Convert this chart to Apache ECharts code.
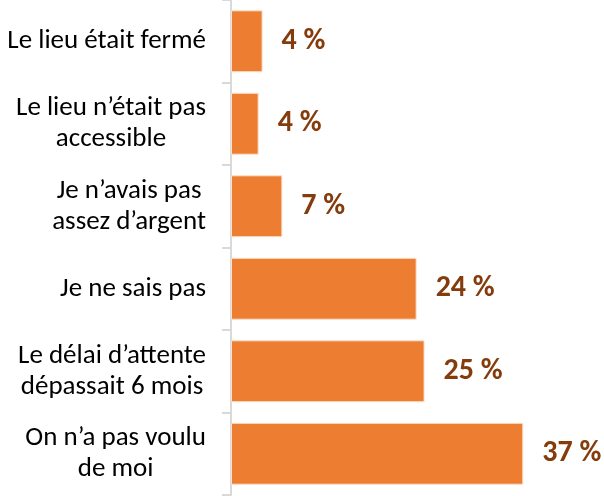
<!DOCTYPE html>
<html lang="fr">
<head>
  <meta charset="UTF-8">
  <title>Raisons</title>
  <script src="https://cdn.jsdelivr.net/npm/echarts@6/dist/echarts.min.js"></script>
  <style>
    html, body { margin: 0; padding: 0; background: #fff; }
    #chart { width: 604px; height: 496px; }
  </style>
</head>
<body>
  <div id="chart"></div>
  <script>
    // categories, top to bottom
    var aCategories = [
      'Le lieu était fermé',
      'Le lieu n’était pas\naccessible',
      'Je n’avais pas\nassez d’argent',
      'Je ne sais pas',
      'Le délai d’attente\ndépassait 6 mois',
      'On n’a pas voulu\nde moi'
    ];
    // bar lengths (%)
    var aValues = [4.0, 3.5, 6.5, 23.5, 24.5, 37.0];
    // printed labels (%)
    var aLabels = [4, 4, 7, 24, 25, 37];

    var sFont = 'Carlito, Calibri, Lato, sans-serif';

    var oChart = echarts.init(document.getElementById('chart'));
    var opt = {
      animation: false,
      grid: {
        left: 231,
        right: 57,
        top: 0,
        bottom: 1,
        containLabel: false
      },
      xAxis: {
        type: 'value',
        min: 0,
        max: 40,
        show: false
      },
      yAxis: {
        type: 'category',
        inverse: true,
        data: aCategories,
        axisLine: { show: true, lineStyle: { color: '#d9d9d9', width: 2 } },
        axisTick: { show: true, length: 9, lineStyle: { color: '#d9d9d9', width: 2 } },
        splitLine: { show: false },
        axisLabel: {
          margin: 25,
          formatter: function (v) {
            return v.split('\n').map(function (s) { return '{c|' + s + '}'; }).join('\n');
          },
          rich: {
            c: {
              align: 'center',
              fontFamily: sFont,
              fontSize: 27,
              lineHeight: 31,
              color: '#000'
            }
          }
        }
      },
      series: [
        {
          type: 'bar',
          data: aValues,
          barCategoryGap: '25%',
          itemStyle: { color: '#ed7d31', borderColor: '#fbe0cc', borderWidth: 1 },
          label: {
            show: true,
            position: 'right',
            distance: 19,
            fontFamily: sFont,
            fontWeight: 'bold',
            fontSize: 30,
            color: '#843c0c',
            formatter: function (p) { return aLabels[p.dataIndex] + ' %'; }
          }
        }
      ]
    };
    oChart.setOption(opt);
  </script>
</body>
</html>
